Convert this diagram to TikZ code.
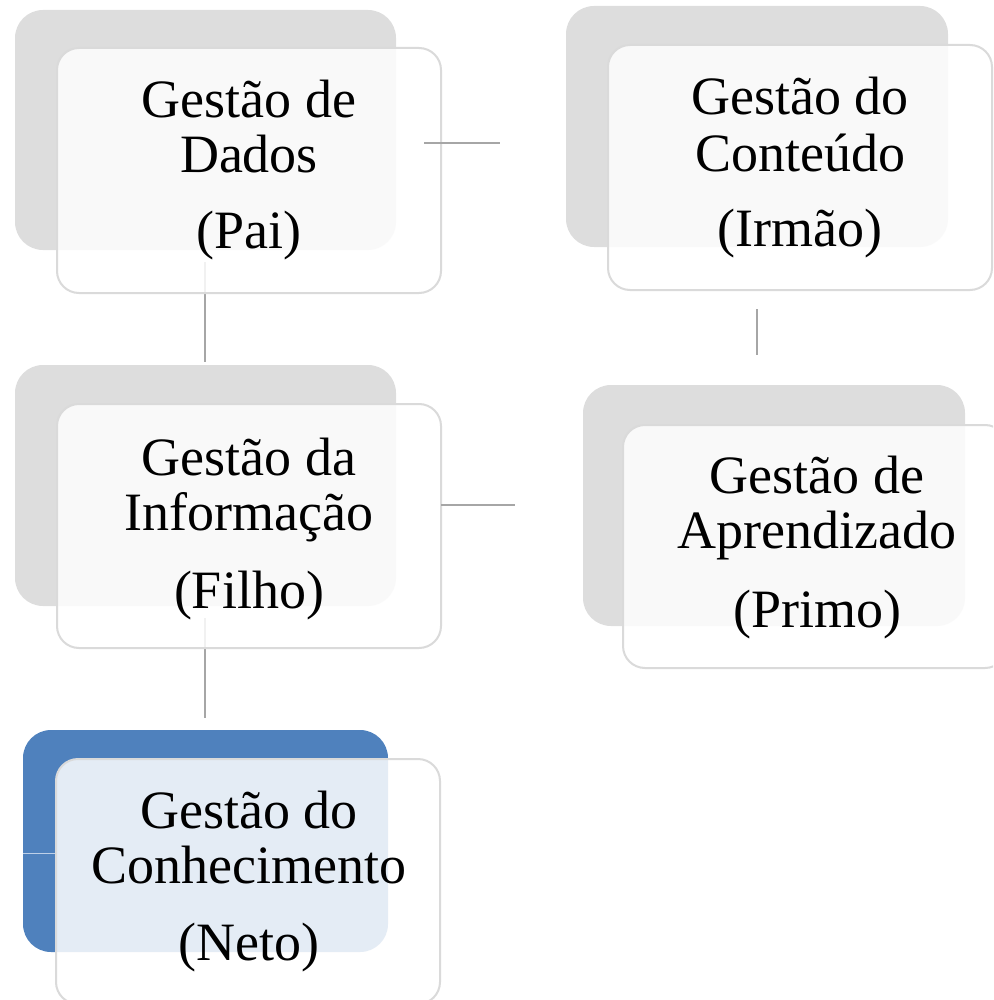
\documentclass[tikz,border=0pt]{standalone}
\usepackage{fontspec}
\setmainfont{Liberation Serif}
\definecolor{backgray}{RGB}{221,221,221}
\definecolor{blueback}{RGB}{79,129,189}
\definecolor{frontline}{RGB}{218,218,218}
\definecolor{linegray}{RGB}{166,166,166}
\definecolor{seam}{RGB}{190,208,232}
\begin{document}
\begin{tikzpicture}[x=1pt,y=-1pt,
  backbox/.style={fill=backgray, draw=none, rounded corners=28pt, inner sep=0pt, outer sep=0pt, anchor=north west},
  bluebox/.style={backbox, fill=blueback},
  frontbox/.style={fill=white, fill opacity=0.85, draw=frontline, line width=2pt, rounded corners=22pt, inner sep=0pt, outer sep=0pt, anchor=north west, minimum width=384pt, minimum height=245pt},
  conn/.style={draw=linegray, line width=2pt},
  txt/.style={font=\fontsize{54}{60}\selectfont, inner sep=0pt, anchor=base, text=black}
]
\useasboundingbox (0,0) rectangle (993,1000);
\clip (0,0) rectangle (993,1000);

% back boxes
\node[backbox, minimum width=381pt, minimum height=240pt] (b1) at (15,10) {};
\node[backbox, minimum width=381pt, minimum height=241pt] (b2) at (15,365) {};
\node[bluebox, minimum width=365pt, minimum height=222pt] (b3) at (23,730) {};
\node[backbox, minimum width=382pt, minimum height=241pt] (b4) at (566,6) {};
\node[backbox, minimum width=382pt, minimum height=241pt] (b5) at (583,385) {};

% vertical connectors (behind the translucent front boxes)
\coordinate (v1a) at (205,262);
\coordinate (v1b) at (205,362);
\coordinate (v2a) at (205,618);
\coordinate (v2b) at (205,718);
\coordinate (v3a) at (757,309);
\coordinate (v3b) at (757,355);
\draw[conn] (v1a) -- (v1b);
\draw[conn] (v2a) -- (v2b);
\draw[conn] (v3a) -- (v3b);

% seam inside the blue box
\coordinate (s3a) at (23,853);
\coordinate (s3b) at (56,853);
\draw[seam, line width=1pt] (s3a) -- (s3b);

% front boxes
\node[frontbox] (f1) at (57,48) {};
\node[frontbox, minimum height=244pt] (f2) at (57,404) {};
\node[frontbox] (f3) at (56,759) {};
\node[frontbox] (f4) at (608,45) {};
\node[frontbox, minimum height=243pt] (f5) at (623,425) {};

% horizontal connectors
\coordinate (h1b) at (500,143);
\coordinate (h2b) at (515,505);
\draw[conn] ([xshift=-17pt]f1.east |- h1b) -- (h1b);
\draw[conn] (f2.east |- h2b) -- (h2b);

% texts
\node[txt] (t1a) at (249,118) {Gestão de};
\node[txt] (t1b) at (249,173) {Dados};
\node[txt] (t1c) at (249,248) {(Pai)};

\node[txt] (t2a) at (249,475) {Gestão da};
\node[txt] (t2b) at (249,530) {Informação};
\node[txt] (t2c) at (249,608) {(Filho)};

\node[txt] (t3a) at (249,828) {Gestão do};
\node[txt] (t3b) at (249,883) {Conhecimento};
\node[txt] (t3c) at (249,960) {(Neto)};

\node[txt] (t4a) at (800,115) {Gestão do};
\node[txt] (t4b) at (800,172) {Conteúdo};
\node[txt] (t4c) at (800,247) {(Irmão)};

\node[txt] (t5a) at (817,493) {Gestão de};
\node[txt] (t5b) at (817,548) {Aprendizado};
\node[txt] (t5c) at (817,627) {(Primo)};
\end{tikzpicture}
\end{document}
